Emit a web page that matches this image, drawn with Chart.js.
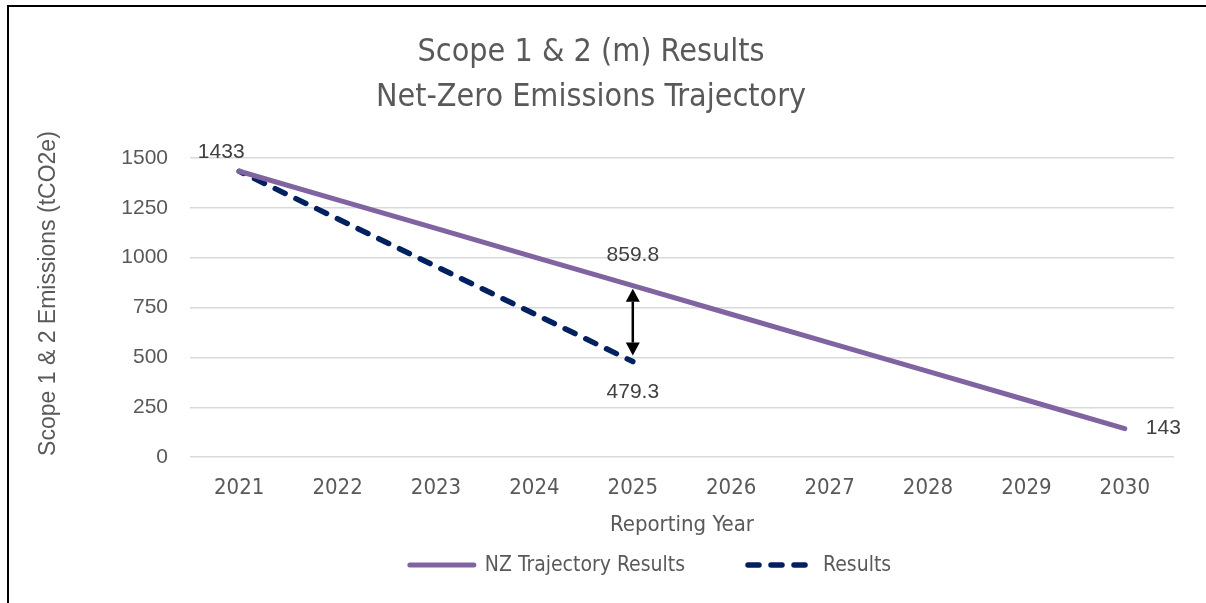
<!DOCTYPE html>
<html>
<head>
<meta charset="utf-8">
<script src="https://cdn.jsdelivr.net/npm/chart.js@4"></script>
<style>
  body { margin: 0; background: #fff; }
  #wrap { position: relative; width: 1206px; height: 603px; }
  #frame { position: absolute; left: 7px; top: 5px; right: 0; bottom: 0; border-top: 2px solid #000; border-left: 2px solid #000; pointer-events: none; }
</style>
</head>
<body>
<div id="wrap">
  <canvas id="chart" width="1206" height="603"></canvas>
  <div id="frame"></div>
</div>
<script>
// data
const years = ['2021', '2022', '2023', '2024', '2025', '2026', '2027', '2028', '2029', '2030']
const nzTrajectory = [1433, 1289.7, 1146.4, 1003.1, 859.8, 716.5, 573.2, 429.9, 286.6, 143]
const results = [1433, 1195, 956, 718, 479.3, null, null, null, null, null]
const yTicks = [0, 250, 500, 750, 1000, 1250, 1500]

// which points get a value label: [datasetIndex, pointIndex, text, placement]
const pointLabels = [
  [0, 0, '1433', 'aboveLeft'],
  [0, 4, '859.8', 'above'],
  [0, 9, '143', 'right'],
  [1, 4, '479.3', 'below']
]

const narrow = "'Liberation Sans Narrow', 'DejaVu Sans Condensed', sans-serif"
const arial = "'Liberation Sans', Arial, sans-serif"
const grey = '#595959'
const dash = [11, 12]

const extrasPlugin = {
  id: 'extras',
  afterDatasetsDraw(chart) {
    const ctx = chart.ctx
    const area = chart.chartArea
    ctx.save()
    ctx.font = '21px ' + arial
    ctx.fillStyle = '#404040'
    ctx.textBaseline = 'middle'
    pointLabels.forEach(([ds, i, txt, pos]) => {
      const pt = chart.getDatasetMeta(ds).data[i]
      let x = pt.x, y = pt.y
      if (pos === 'above') { ctx.textAlign = 'center'; y -= 30 }
      else if (pos === 'below') { ctx.textAlign = 'center'; y += 31 }
      else if (pos === 'right') { ctx.textAlign = 'left'; x += 21 }
      else { ctx.textAlign = 'center'; x -= 18; y -= 19 }
      ctx.fillText(txt, x, y)
    })

    // double-headed arrow between the two series at 2025
    const a = chart.getDatasetMeta(0).data[4]
    const b = chart.getDatasetMeta(1).data[4]
    const x = a.x
    const top = a.y + 3, bot = b.y - 6, head = 13
    ctx.strokeStyle = '#000'
    ctx.fillStyle = '#000'
    ctx.lineWidth = 2.5
    ctx.beginPath()
    ctx.moveTo(x, top + head)
    ctx.lineTo(x, bot - head)
    ctx.stroke()
    ctx.beginPath()
    ctx.moveTo(x, top); ctx.lineTo(x - 7, top + head); ctx.lineTo(x + 7, top + head); ctx.closePath()
    ctx.fill()
    ctx.beginPath()
    ctx.moveTo(x, bot); ctx.lineTo(x - 7, bot - head); ctx.lineTo(x + 7, bot - head); ctx.closePath()
    ctx.fill()

    // y axis title
    ctx.save()
    ctx.translate(49, (area.top + area.bottom) / 2 - 14)
    ctx.rotate(-Math.PI / 2)
    ctx.textAlign = 'center'
    ctx.fillStyle = grey
    ctx.font = '23px ' + arial
    ctx.fillText('Scope 1 & 2 Emissions (tCO2e)', 0, 0)
    ctx.restore()

    // legend
    ctx.font = '21px ' + narrow
    const sw = 70, gap = 8, spacing = 60
    const items = chart.data.datasets.map(d => ({ d, w: ctx.measureText(d.label).width }))
    const total = items.reduce((s, it) => s + sw + gap + it.w, 0) + spacing * (items.length - 1)
    let lx = (area.left + area.right) / 2 - 33 - total / 2
    const ly = 565
    ctx.textAlign = 'left'
    items.forEach(({ d, w }) => {
      ctx.strokeStyle = d.borderColor
      ctx.lineWidth = d.borderWidth
      ctx.lineCap = 'round'
      ctx.setLineDash(d.borderDash || [])
      ctx.beginPath()
      ctx.moveTo(lx + 3, ly)
      ctx.lineTo(lx + sw - 3, ly)
      ctx.stroke()
      ctx.setLineDash([])
      ctx.fillStyle = grey
      ctx.fillText(d.label, lx + sw + gap, ly + 1)
      lx += sw + gap + w + spacing
    })
    ctx.restore()
  }
}

new Chart(document.getElementById('chart'), {
  type: 'line',
  data: {
    labels: years,
    datasets: [
      {
        label: 'NZ Trajectory Results',
        data: nzTrajectory,
        borderColor: '#8064A2',
        backgroundColor: '#8064A2',
        borderWidth: 5,
        borderCapStyle: 'round',
        pointRadius: 0,
        tension: 0
      },
      {
        label: 'Results',
        data: results,
        borderColor: '#002060',
        backgroundColor: '#002060',
        borderWidth: 5.5,
        borderDash: dash,
        borderDashOffset: 6,
        borderCapStyle: 'round',
        pointRadius: 0,
        tension: 0
      }
    ]
  },
  options: {
    responsive: false,
    animation: false,
    layout: { padding: { left: 8, right: 32, top: 18, bottom: 65 } },
    plugins: {
      title: {
        display: true,
        text: ['Scope 1 & 2 (m) Results', 'Net-Zero Emissions Trajectory'],
        color: grey,
        font: { family: narrow, size: 32, weight: 'normal', lineHeight: 1.42 },
        padding: { top: 12, bottom: 37 }
      },
      legend: { display: false },
      tooltip: { enabled: false }
    },
    scales: {
      x: {
        offset: true,
        grid: { display: false, drawTicks: false },
        border: { display: false },
        ticks: { color: grey, font: { family: narrow, size: 22 }, padding: 18 },
        title: { display: true, text: 'Reporting Year', color: grey, font: { family: narrow, size: 22 }, padding: { top: -8, bottom: 0 } }
      },
      y: {
        min: 0,
        max: 1500,
        afterBuildTicks: s => { s.ticks = yTicks.map(v => ({ value: v })) },
        afterFit: s => { s.width = 182 },
        grid: { color: '#d9d9d9', lineWidth: 1.5, drawTicks: false },
        border: { display: false },
        ticks: { color: grey, font: { family: arial, size: 21 }, padding: 22, callback: v => String(v) }
      }
    }
  },
  plugins: [extrasPlugin]
})
</script>
</body>
</html>
